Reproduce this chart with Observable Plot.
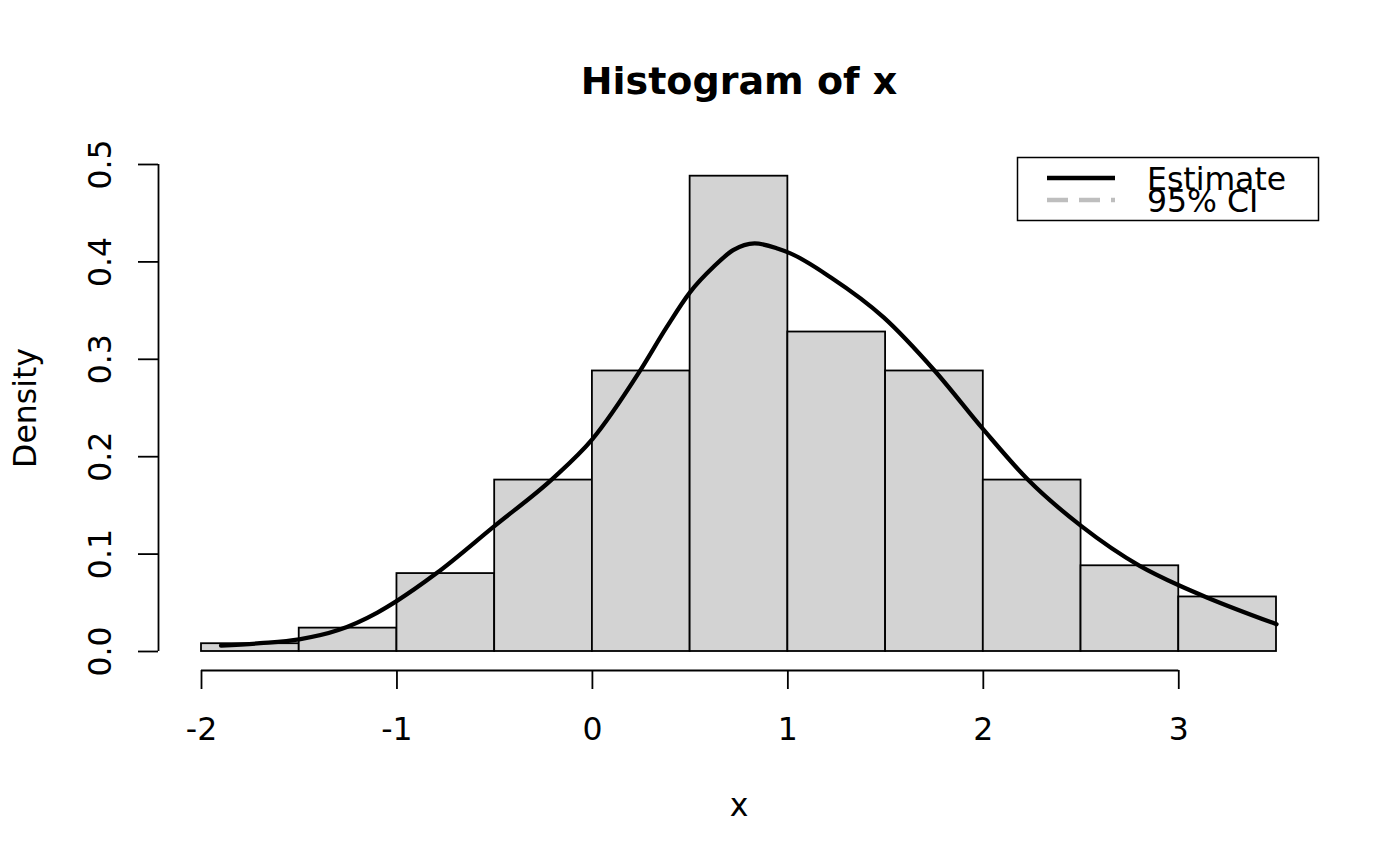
<!DOCTYPE html>
<html>
<head>
<meta charset="utf-8">
<script src="https://cdn.jsdelivr.net/npm/d3@7"></script>
<script src="https://cdn.jsdelivr.net/npm/@observablehq/plot@0.6"></script>
<style>
  html, body { margin: 0; padding: 0; background: #fff; }
  #chart { position: relative; width: 1400px; height: 866px; }
  svg { font-family: "DejaVu Sans", sans-serif; }
</style>
</head>
<body>
<div id="chart"></div>
<script>
// Histogram bins (left edges, right edges) and densities
const binStart = [-2, -1.5, -1, -0.5, 0, 0.5, 1, 1.5, 2, 2.5, 3];
const binEnd   = [-1.5, -1, -0.5, 0, 0.5, 1, 1.5, 2, 2.5, 3, 3.5];
const density  = [0.008, 0.024, 0.080, 0.176, 0.288, 0.488, 0.328, 0.288, 0.176, 0.088, 0.056];

// Density estimate curve
const curveX = [-1.9, -1.7, -1.5, -1.3, -1.1, -1.0, -0.8, -0.5, -0.2, 0, 0.24, 0.38, 0.5, 0.62, 0.72, 0.83, 0.95, 1.01, 1.22, 1.49, 1.75, 2.0, 2.23, 2.5, 2.8, 3.0, 3.15, 3.5];
const curveY = [0.006, 0.0085, 0.0125, 0.022, 0.040, 0.052, 0.080, 0.129, 0.178, 0.218, 0.287, 0.333, 0.369, 0.395, 0.412, 0.419, 0.4135, 0.409, 0.384, 0.343, 0.2885, 0.228, 0.176, 0.129, 0.088, 0.068, 0.055, 0.028];

// Tick labels
const xTicks = [-2, -1, 0, 1, 2, 3];
const xTickLabels = ["-2", "-1", "0", "1", "2", "3"];
const yTicks = [0, 0.1, 0.2, 0.3, 0.4, 0.5];
const yTickLabels = ["0.0", "0.1", "0.2", "0.3", "0.4", "0.5"];

const titleText = "Histogram of x";
const xLabel = "x";
const yLabel = "Density";
const legendLabels = ["Estimate", "95% CI"];

const bins = binStart.map((s, i) => ({x1: s, x2: binEnd[i], y: density[i]}));
const curve = curveX.map((x, i) => ({x, y: curveY[i]}));
const xt = xTicks.map((v, i) => ({v, label: xTickLabels[i]}));
const yt = yTicks.map((v, i) => ({v, label: yTickLabels[i]}));

const FS = 31.5;

const plot = Plot.plot({
  width: 1400,
  height: 866,
  marginLeft: 201,
  marginRight: 124,
  marginTop: 164,
  marginBottom: 215,
  style: {fontFamily: "DejaVu Sans, sans-serif", background: "white", overflow: "visible"},
  x: {domain: [-2, 3.5], axis: null},
  y: {domain: [0, 0.5], axis: null},
  marks: [
    Plot.rectY(bins, {x1: "x1", x2: "x2", y1: 0, y2: "y", fill: "#d3d3d3", stroke: "black", strokeWidth: 1.8, inset: 0}),
    Plot.line(curve, {x: "x", y: "y", stroke: "black", strokeWidth: 4.3, curve: "monotone-x"}),
    // x axis
    Plot.ruleY([0], {x1: xTicks[0], x2: xTicks[xTicks.length - 1], dy: 19, stroke: "black", strokeWidth: 1.8}),
    Plot.axisX({ticks: xTicks, tickSize: 19, dy: 19, tickFormat: () => "", label: null, stroke: "black", strokeWidth: 1.8}),
    Plot.text(xt, {x: "v", y: 0, text: "label", dy: 78, fontSize: FS, fill: "black"}),
    // y axis
    Plot.ruleX([-2], {y1: yTicks[0], y2: yTicks[yTicks.length - 1], dx: -43, stroke: "black", strokeWidth: 1.8}),
    Plot.axisY({ticks: yTicks, tickSize: 20, dx: -43, tickFormat: () => "", label: null, stroke: "black", strokeWidth: 1.8}),
    Plot.text(yt, {x: -2, y: "v", text: "label", dx: -101, rotate: -90, fontSize: FS, fill: "black"}),
    // titles
    Plot.text([titleText], {frameAnchor: "top", lineAnchor: "middle", dy: -83, fontSize: 38, fontWeight: "bold", fill: "black"}),
    Plot.text([xLabel], {frameAnchor: "bottom", lineAnchor: "middle", dy: 154, fontSize: FS, fill: "black"}),
    Plot.text([yLabel], {frameAnchor: "left", lineAnchor: "middle", textAnchor: "middle", dx: -176, rotate: -90, fontSize: FS, fill: "black"})
  ]
});

document.getElementById("chart").appendChild(plot);

// Legend drawn into the same svg
const svg = d3.select(plot);
const lg = svg.append("g").attr("text-anchor", "start");
lg.append("rect").attr("x", 1017.5).attr("y", 157.5).attr("width", 301).attr("height", 63)
  .attr("fill", "white").attr("stroke", "black").attr("stroke-width", 1.5);
lg.append("line").attr("x1", 1047).attr("x2", 1115).attr("y1", 178).attr("y2", 178)
  .attr("stroke", "black").attr("stroke-width", 4.3);
lg.append("line").attr("x1", 1047).attr("x2", 1115).attr("y1", 200).attr("y2", 200)
  .attr("stroke", "#bebebe").attr("stroke-width", 4.3).attr("stroke-dasharray", "21,11");
lg.append("text").attr("x", 1147).attr("y", 180).attr("dy", "0.32em").attr("font-size", FS)
  .attr("text-anchor", "start").attr("fill", "black").text(legendLabels[0]);
lg.append("text").attr("x", 1147).attr("y", 202).attr("dy", "0.32em").attr("font-size", FS)
  .attr("text-anchor", "start").attr("fill", "black").text(legendLabels[1]);
</script>
</body>
</html>
